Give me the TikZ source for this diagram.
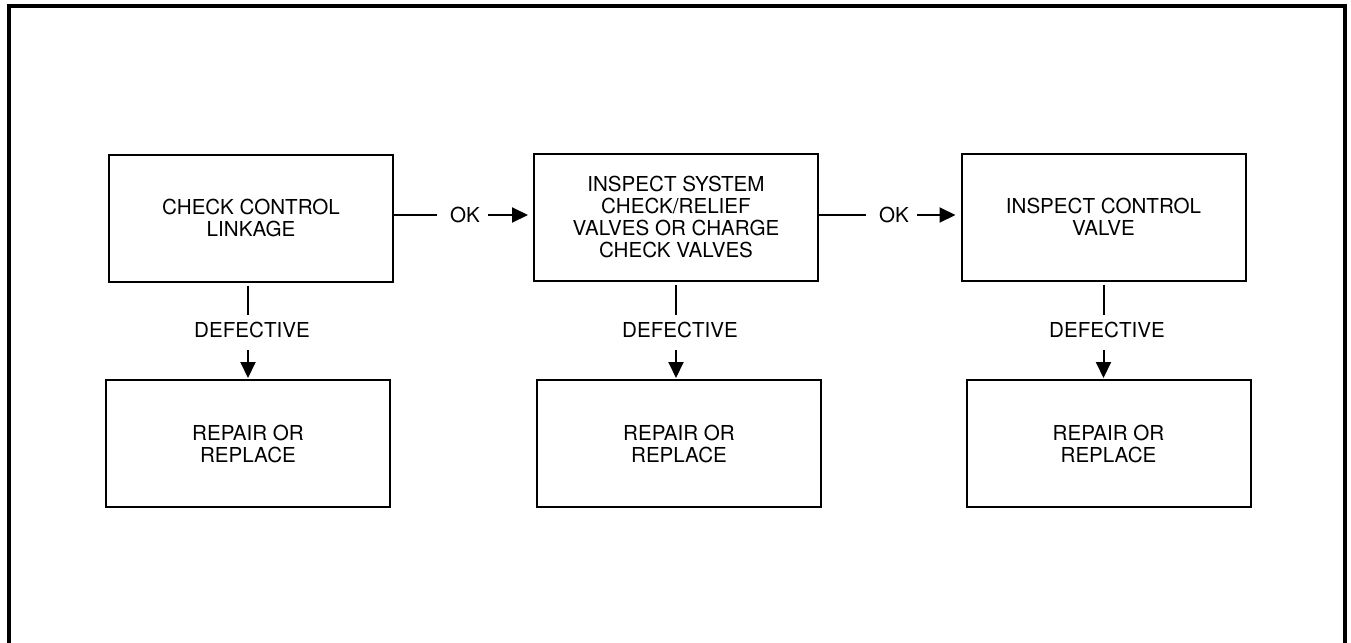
\documentclass[tikz,border=0pt]{standalone}
\usepackage{fontspec}
\setmainfont{TeX Gyre Heros}
\usetikzlibrary{arrows.meta,calc}
\begin{document}
\begin{tikzpicture}[x=0.5pt,y=-0.5pt,
  txt/.style={font=\fontsize{10.3}{11}\selectfont},
  box/.style={txt,draw,line width=1pt,minimum width=142pt,minimum height=63.5pt,inner sep=0pt,align=center},
  lab/.style={txt,inner sep=0pt},
  conn/.style={line width=1pt},
  arr/.style={line width=1pt,-{Triangle[length=8pt,width=7.5pt]}}]
\useasboundingbox (0,0) rectangle (1351,643);
\draw[line width=2pt] (9,660) -- (9,5.5) -- (1344.5,5.5) -- (1344.5,660);

\node[box] (A) at (251,218) {CHECK CONTROL\\LINKAGE};
\node[box] (B) at (676,217) {INSPECT SYSTEM\\CHECK/RELIEF\\VALVES OR CHARGE\\CHECK VALVES};
\node[box] (C) at (1103.5,217) {INSPECT CONTROL\\VALVE};
\node[box] (D) at (248,443.5) {REPAIR OR\\REPLACE};
\node[box] (E) at (679,443.5) {REPAIR OR\\REPLACE};
\node[box] (F) at (1108.5,443.5) {REPAIR OR\\REPLACE};

\node[lab] (ok1) at (465,215) {OK};
\node[lab] (ok2) at (894,215) {OK};
\draw[conn,shorten >=6.5pt] (A.east |- ok1) -- (ok1.west);
\draw[arr,shorten <=4pt,shorten >=2.5pt] (ok1.east) -- (B.west |- ok1);
\draw[conn,shorten >=6.5pt] (B.east |- ok2) -- (ok2.west);
\draw[arr,shorten <=4pt,shorten >=2.5pt] (ok2.east) -- (C.west |- ok2);

\node[lab] (d1) at (252,330) {DEFECTIVE};
\node[lab] (d2) at (680,330) {DEFECTIVE};
\node[lab] (d3) at (1107,330) {DEFECTIVE};
\coordinate (x1) at (248,0);
\coordinate (x2) at (676,0);
\coordinate (x3) at (1103.5,0);
\draw[conn] (x1 |- A.south) ++(0,3) -- ($(x1 |- d1.north)+(0,-7)$);
\draw[arr] ($(x1 |- d1.south)+(0,12)$) -- ($(x1 |- D.north)+(0,-1)$);
\draw[conn] (x2 |- B.south) ++(0,3) -- ($(x2 |- d2.north)+(0,-7)$);
\draw[arr] ($(x2 |- d2.south)+(0,12)$) -- ($(x2 |- E.north)+(0,-1)$);
\draw[conn] (x3 |- C.south) ++(0,3) -- ($(x3 |- d3.north)+(0,-7)$);
\draw[arr] ($(x3 |- d3.south)+(0,12)$) -- ($(x3 |- F.north)+(0,-1)$);
\end{tikzpicture}
\end{document}
